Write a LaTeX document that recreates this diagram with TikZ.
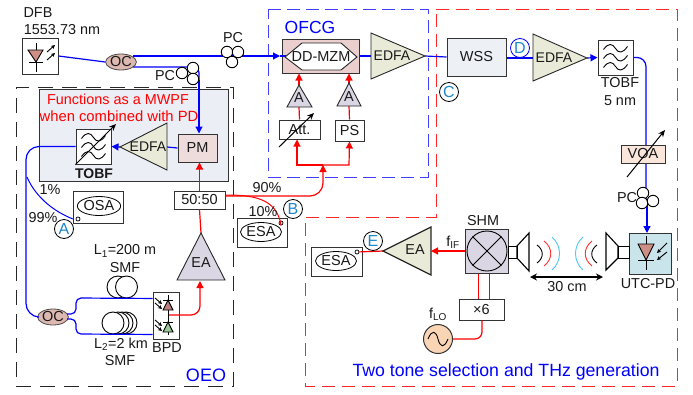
\documentclass[tikz,border=0pt]{standalone}
\usepackage{fontspec}
\setmainfont{Liberation Sans}
\usetikzlibrary{arrows.meta,shapes.geometric}
\definecolor{markblue}{HTML}{1C87C9}
\definecolor{tricol}{HTML}{E9EBD8}
\definecolor{ampcol}{HTML}{DAD6E3}
\definecolor{mzmcol}{HTML}{EBCFCE}
\definecolor{pmcol}{HTML}{EEDCDC}
\definecolor{occol}{HTML}{DDB8B0}
\definecolor{diodecol}{HTML}{CD8F85}
\definecolor{panelcol}{HTML}{EBEEF5}
\definecolor{wsscol}{HTML}{EDF0F5}
\definecolor{voacol}{HTML}{FBE6DC}
\definecolor{utccol}{HTML}{C9E4EA}
\definecolor{locol}{HTML}{F9D5B5}
\tikzset{
  lbl/.style={inner sep=0pt,text=black!90,font=\fontsize{14.4}{16}\selectfont},
  compbox/.style={draw=black!80,line width=1pt,inner sep=0pt,text=black!90,font=\fontsize{14.5}{16}\selectfont},
  ocnode/.style={ellipse,draw=black!70,fill=occol,line width=.8pt,minimum width=30pt,minimum height=16pt,inner sep=0pt,text=black!90,font=\fontsize{14.5}{16}\selectfont},
  pccirc/.style={circle,draw=black,fill=white,line width=.9pt,minimum size=11.5pt,inner sep=0pt},
  spool/.style={circle,draw=black,fill=white,line width=.9pt,minimum size=22pt,inner sep=0pt},
  marker/.style={circle,draw=black,fill=white,line width=.8pt,minimum size=19pt,inner sep=0pt,text=markblue,font=\fontsize{16}{18}\selectfont},
  esaring/.style={ellipse,draw=black,line width=.8pt,minimum width=36pt,minimum height=19pt,inner sep=0pt,text=black!90,font=\fontsize{14.5}{16}\selectfont},
  port/.style={circle,draw=black,fill=white,line width=.7pt,minimum size=4pt,inner sep=0pt},
  bluefib/.style={draw=blue,line width=1.2pt,rounded corners=6pt},
  redfib/.style={draw=red,line width=1.2pt,rounded corners=6pt},
  fibtip/.style={-{Triangle[length=7pt,width=7pt]}},
  symb/.style={draw=black,line width=.9pt},
  lighttip/.style={draw=black,line width=.9pt,-{Stealth[length=4pt,width=4pt]}},
  tunetip/.style={draw=black,line width=1pt,-{Stealth[length=7pt,width=6pt]}},
  tri/.style={draw=black!85,line width=.9pt,fill=tricol},
  amp/.style={draw=black!85,line width=.9pt,fill=ampcol}
}
\begin{document}
\begin{tikzpicture}[x=1pt,y=-1pt]
    \useasboundingbox (0,0) rectangle (693,394);
    % dashed frames
    \draw[black!85,line width=1pt,dash pattern=on 15pt off 9pt] (16,386) -- (233,386) -- (233,87) -- (16,87) -- cycle;
    \draw[blue!75,line width=1pt,dash pattern=on 13pt off 6pt] (268,9) -- (428,9) -- (428,177) -- (268,177) -- cycle;
    \draw[red!85,line width=1pt,dash pattern=on 13pt off 7pt] (436,9) -- (677,9) -- (677,386) -- (305,386) -- (305,217) -- (436,217) -- cycle;
    \draw[fill=panelcol,draw=black!80,line width=1pt] (39,89) rectangle (228,181);
    % triangles
    \coordinate (E1tip) at (120,147);
    \coordinate (E1a) at (167,123);
    \coordinate (E1b) at (167,170);
    \coordinate (E1in) at (167,147);
    \coordinate (E2tip) at (425,56);
    \coordinate (E2a) at (371,33);
    \coordinate (E2b) at (371,79);
    \coordinate (E2in) at (371,56);
    \coordinate (E3tip) at (587,58);
    \coordinate (E3a) at (533,34);
    \coordinate (E3b) at (533,81);
    \coordinate (E3in) at (533,58);
    \coordinate (EAtop) at (201,233);
    \coordinate (EAa) at (177,280);
    \coordinate (EAb) at (225,280);
    \coordinate (EAin) at (200,281);
    \coordinate (EBtip) at (383,251);
    \coordinate (EBa) at (431,227);
    \coordinate (EBb) at (431,275);
    \coordinate (EBin) at (431,251);
    \coordinate (A1top) at (299,85);
    \coordinate (A1a) at (287,107);
    \coordinate (A1b) at (312,107);
    \coordinate (A1in) at (299,107);
    \coordinate (A2top) at (349,83);
    \coordinate (A2a) at (337,106);
    \coordinate (A2b) at (361,106);
    \coordinate (A2in) at (349,106);
    % fibre ends and bends
    \coordinate (oc1up) at (133,56);
    \coordinate (oc1dn) at (133,67);
    \coordinate (oc2up) at (67,314);
    \coordinate (oc2dn) at (67,319);
    \coordinate (mzmin) at (280,56);
    \coordinate (hexin) at (286,56);
    \coordinate (rfjoin) at (323,165);
    \coordinate (attin) at (297,165);
    \coordinate (psin) at (349,165);
    \coordinate (bpdout) at (168,315);
    \coordinate (osain) at (73,219);
    % boxes
    \node[compbox,fill=white,minimum width=36pt,minimum height=36pt] (dfb) at (40,56) {};
    \node[ocnode] (oc1) at (121,62) {OC};
    \node[ocnode] (oc2) at (53,317) {OC};
    \node[compbox,fill=white,minimum width=35pt,minimum height=35pt] (tobf1) at (93.5,146.5) {};
    \node[compbox,fill=pmcol,minimum width=39pt,minimum height=28pt] (pm) at (197.5,148) {PM};
    \node[compbox,fill=white,minimum width=51pt,minimum height=18pt] (split) at (199.5,200) {50:50};
    \node[compbox,fill=white,minimum width=26pt,minimum height=47pt] (bpd) at (166,315.5) {};
    \node[compbox,fill=white,minimum width=50pt,minimum height=32pt] (osa) at (98,207) {};
    \node[compbox,fill=white,minimum width=50pt,minimum height=29pt] (esa1) at (262,232.5) {};
    \node[compbox,fill=white,minimum width=51pt,minimum height=29pt] (esa2) at (336.5,261.5) {};
    \node[compbox,fill=mzmcol,minimum width=77pt,minimum height=34pt] (mzm) at (320.5,56) {};
    \node[compbox,fill=white,minimum width=41pt,minimum height=19pt] (att) at (299.5,129.5) {Att.};
    \node[compbox,fill=white,minimum width=29pt,minimum height=21pt] (ps) at (349.5,130.5) {PS};
    \node[compbox,fill=wsscol,minimum width=59pt,minimum height=38pt] (wss) at (476.5,57) {WSS};
    \node[compbox,fill=white,minimum width=35pt,minimum height=35pt] (tobf2) at (615.5,57.5) {};
    \node[compbox,fill=utccol,minimum width=42pt,minimum height=41pt] (utc) at (650,253.5) {};
    \node[compbox,fill=ampcol,minimum width=43pt,minimum height=44pt] (shm) at (486.5,251) {};
    \node[compbox,fill=white,minimum width=45pt,minimum height=21pt] (mult) at (481.5,309.5) {×6};
    \node[circle,draw=black!80,line width=1pt,fill=locol,minimum size=29pt,inner sep=0pt] (lo) at (438,339) {};
    \node[port] (osaport) at (78,219) {};
    \node[port] (esa1port) at (281,223) {};
    \node[port] (esa2port) at (357,252) {};
    % fibre spools
    \foreach \sx/\sn in {118/sa1,126.5/sa2} {
      \node[spool] (\sn) at (\sx,287) {};
    }
    \foreach \sx/\sn in {126/sb1,122/sb2,118/sb3,113/sb4} {
      \node[spool] (\sn) at (\sx,323) {};
    }
    % fibres
    \draw[bluefib] (dfb.east) -- (oc1.west);
    \draw[bluefib,fibtip] (oc1up) -- (mzmin);
    \draw[bluefib] (mzmin) -- (hexin);
    \draw[bluefib] (oc1dn) -- (199,67) -- (199,85);
    \draw[bluefib,fibtip] (199,80) -- (pm.north -| 199,0);
    \draw[bluefib] (pm.west) -- (E1in);
    \draw[bluefib,fibtip] (E1tip) -- (tobf1.east);
    \draw[bluefib,rounded corners=13pt] (tobf1.west) -- (26,146.5) -- (26,316.5) -- (oc2.west);
    \draw[draw=blue,line width=1pt] (27,177) .. controls (36,198) and (55,212) .. (osain);
    \draw[bluefib,rounded corners=5pt] (oc2up) -- (76,314) -- (76,298) -- (sa2.south -| bpd.west);
    \draw[bluefib,rounded corners=5pt] (oc2dn) -- (76,319) -- (76,334) -- (sb1.south -| bpd.west);
    \draw[bluefib] (mzm.east) -- (E2in);
    \draw[bluefib] (E2tip) -- (wss.west);
    \draw[bluefib] (wss.east |- E3in) -- (E3in);
    \draw[bluefib,fibtip] (E3tip) -- (tobf2.west);
    \draw[bluefib,rounded corners=9pt] (tobf2.east) -- (646,57.5) -- (646,200);
    \draw[bluefib,fibtip] (647,200) -- (647,233);
    \draw[redfib,fibtip] (split.north) -- (pm.south -| split.north);
    \draw[redfib] (EAtop) -- (split.south);
    \draw[redfib,rounded corners=9pt,fibtip] (bpdout) -- (200,315) -- (EAin);
    \draw[redfib,rounded corners=13pt,fibtip] (split.east |- 0,196) -- (323,196) -- (rfjoin);
    \draw[draw=red,line width=1pt] (split.east |- 0,195) .. controls (250,195) and (277,197) .. (esa1port.south);
    \draw[redfib,rounded corners=0pt,fibtip] (rfjoin) -- (attin) -- (att.south -| attin);
    \draw[redfib,rounded corners=0pt,fibtip] (rfjoin) -- (psin) -- (ps.south);
    \draw[redfib] (att.north) -- (A1in);
    \draw[redfib] (ps.north) -- (A2in);
    \draw[redfib,fibtip] (A1top) -- (mzm.south -| A1top);
    \draw[redfib,fibtip] (A2top) -- (mzm.south -| A2top);
    \draw[redfib] (esa2port) -- (EBtip);
    \draw[redfib,fibtip] (shm.west) -- (EBin);
    \draw[redfib,line width=1pt,rounded corners=0pt] (shm.south -| 478,0) -- (mult.north -| 478,0);
    \draw[redfib,line width=1pt,rounded corners=0pt] (shm.south -| 489,0) -- (mult.north -| 489,0);
    \draw[redfib,rounded corners=7pt] (lo.east) -- (482,339) -- (mult.south -| 482,0);
    % boxes on top of the fibres
    \node[compbox,fill=voacol,minimum width=44pt,minimum height=18pt] (voa) at (643,154) {VOA};
    \draw[tri] (E1tip) -- (E1a) -- (E1b) -- cycle;
    \draw[tri] (E2tip) -- (E2a) -- (E2b) -- cycle;
    \draw[tri] (E3tip) -- (E3a) -- (E3b) -- cycle;
    \draw[tri,line width=1.2pt] (EBtip) -- (EBa) -- (EBb) -- cycle;
    \draw[amp] (EAtop) -- (EAa) -- (EAb) -- cycle;
    \draw[amp] (A1top) -- (A1a) -- (A1b) -- cycle;
    \draw[amp] (A2top) -- (A2a) -- (A2b) -- cycle;
    \draw[draw=black!85,line width=.9pt,fill=white] (285,57) -- (302,43) -- (341,43) -- (357,57) -- (341,70) -- (302,70) -- cycle;
    % polarisation controllers
    \node[pccirc] (pc1a) at (227,52) {};
    \node[pccirc] (pc1b) at (238,52) {};
    \node[pccirc] (pc1c) at (232,62) {};
    \node[pccirc] (pc2a) at (182,73) {};
    \node[pccirc] (pc2b) at (193,68) {};
    \node[pccirc] (pc2c) at (193,79) {};
    \node[pccirc] (pc3a) at (643,193) {};
    \node[pccirc] (pc3b) at (642,203) {};
    \node[pccirc] (pc3c) at (653,201) {};
    % diodes
    \draw[symb] (36,43) -- (36,72);
    \draw[symb] (29,62) -- (43,62);
    \draw[symb,fill=diodecol] (28,50) -- (43,50) -- (36,62) -- cycle;
    \draw[lighttip] (47,52) -- (55,45);
    \draw[lighttip] (47,60) -- (55,53);
    \draw[symb] (168,295) -- (168,335);
    \draw[symb] (163,300) -- (173,300);
    \draw[symb,fill=red!45!black!50!white] (163,310) -- (173,310) -- (168,300) -- cycle;
    \draw[symb] (163,322) -- (173,322);
    \draw[symb,fill=green!45!black!40!white] (163,332) -- (173,332) -- (168,322) -- cycle;
    \draw[lighttip] (155,298) -- (162,304);
    \draw[lighttip] (155,303) -- (162,309);
    \draw[lighttip] (155,320) -- (162,326);
    \draw[lighttip] (155,325) -- (162,331);
    \draw[symb] (646,236) -- (646,270);
    \draw[symb] (638,260) -- (654,260);
    \draw[symb,fill=diodecol] (638,244) -- (654,244) -- (646,260) -- cycle;
    \draw[lighttip] (667,243) -- (657,253);
    \draw[lighttip] (667,252) -- (657,260);
    % filters
    \foreach \fx/\fy in {93.5/146.5,615.5/57.5} {
      \foreach \dy in {-9,0,9} {
        \draw[symb,shift={(\fx,\fy+\dy)}] (-12,1) .. controls (-7,-6) and (-3,-5) .. (0,0) .. controls (3,5) and (7,5) .. (12,-2);
      }
    }
    \draw[tunetip] (tobf1.south west) -- (116,124);
    \draw[tunetip] (279,147) -- (314,113);
    \draw[tunetip] (627,177) -- (665,130);
    % SHM and horns
    \node[circle,draw=black,line width=.9pt,minimum size=40pt,inner sep=0pt] (mix) at (487,251) {};
    \draw[symb] (mix.45) -- (mix.225);
    \draw[symb] (mix.135) -- (mix.315);
    \draw[symb] (508,246) rectangle (517,258);
    \draw[symb,line width=1.1pt] (517,246) -- (529,233) -- (529,271) -- (517,258) -- cycle;
    \draw[symb] (618,246) rectangle (629,258);
    \draw[symb,line width=1.1pt] (618,246) -- (606,233) -- (606,270) -- (618,258) -- cycle;
    \draw[black,line width=.9pt] (537,245) .. controls (544,250) and (544,258) .. (537,263);
    \draw[red!80,line width=.9pt] (544,241) .. controls (553,248) and (553,259) .. (544,266);
    \draw[cyan!70,line width=.9pt] (552,237) .. controls (562,246) and (562,261) .. (552,270);
    \draw[black,line width=.9pt] (597,245) .. controls (590,250) and (590,258) .. (597,263);
    \draw[red!80,line width=.9pt] (592,241) .. controls (583,248) and (583,259) .. (592,266);
    \draw[cyan!70,line width=.9pt] (583,237) .. controls (573,246) and (573,261) .. (583,270);
    \draw[black,line width=1.2pt,{Stealth[length=7pt,width=7pt]}-{Stealth[length=7pt,width=7pt]}] (530,277) -- (603,277);
    \draw[symb] (428,339) .. controls (432,329) and (436,331) .. (438,339) .. controls (440,347) and (444,349) .. (448,339);
    % esa and osa
    \node[esaring] (osaring) at (99,206) {OSA};
    \node[esaring] (esa1ring) at (261,232) {ESA};
    \node[esaring] (esa2ring) at (336,261) {ESA};
    % labels
    \node[lbl] (dfblab) at (38,13) {DFB};
    \node[lbl] (lamlab) at (62,30) {1553.73 nm};
    \node[lbl] (pc1lab) at (233,38) {PC};
    \node[lbl] (pc2lab) at (165,76) {PC};
    \node[lbl] (pc3lab) at (627,198) {PC};
    \node[lbl,text=red] (mw1lab) at (118,99) {Functions as a MWPF};
    \node[lbl,text=red,font=\fontsize{14.8}{16}\selectfont] (mw2lab) at (119,116) {when combined with PD};
    \node[lbl,font=\fontsize{14}{16}\selectfont] (edfa1) at (148,147) {EDFA};
    \node[lbl,font=\fontsize{14}{16}\selectfont] (edfa2) at (392,56) {EDFA};
    \node[lbl,font=\fontsize{14}{16}\selectfont] (edfa3) at (554,58) {EDFA};
    \node[lbl,font=\bfseries\fontsize{14}{16}\selectfont] (tobflab) at (94,174) {TOBF};
    \node[lbl] (p1) at (50,190) {1\%};
    \node[lbl] (p99) at (43,218) {99\%};
    \node[lbl] (p90) at (267,188) {90\%};
    \node[lbl] (p10) at (263,212) {10\%};
    \node[lbl] (ealab) at (201,263) {EA};
    \node[lbl] (ea2lab) at (415,250) {EA};
    \node[lbl] (a1lab) at (299,98) {A};
    \node[lbl] (a2lab) at (349,97) {A};
    \node[lbl] (l1lab) at (125,251) {L\textsubscript{1}=200 m};
    \node[lbl] (smf1) at (125,268) {SMF};
    \node[lbl] (l2lab) at (121,344) {L\textsubscript{2}=2 km};
    \node[lbl] (smf2) at (120,361) {SMF};
    \node[lbl] (bpdlab) at (167,348) {BPD};
    \node[lbl,text=blue,font=\fontsize{18}{20}\selectfont] (oeolab) at (206,375) {OEO};
    \node[lbl,text=blue,font=\fontsize{17.5}{20}\selectfont] (ofcglab) at (310,27) {OFCG};
    \node[lbl,font=\fontsize{14.5}{16}\selectfont] (mzmlab) at (321,57) {DD-MZM};
    \node[lbl] (tobf2lab) at (620,83) {TOBF};
    \node[lbl] (bwlab) at (620,101) {5 nm};
    \node[lbl] (utclab) at (648,284) {UTC-PD};
    \node[lbl] (shmlab) at (483,221) {SHM};
    \node[lbl] (iflab) at (453,242) {f\textsubscript{IF}};
    \node[lbl] (lolab) at (438,314) {f\textsubscript{LO}};
    \node[lbl] (dist) at (567,287) {30 cm};
    \node[lbl,text=blue,font=\fontsize{17.7}{20}\selectfont] (tonelab) at (506,372) {Two tone selection and THz generation};
    % markers
    \node[marker] (mA) at (64,229) {A};
    \node[marker] (mB) at (293,209) {B};
    \node[marker] (mC) at (449,92) {C};
    \node[marker,draw=blue] (mD) at (520,48) {D};
    \node[marker] (mE) at (373,241) {E};
\end{tikzpicture}
\end{document}
